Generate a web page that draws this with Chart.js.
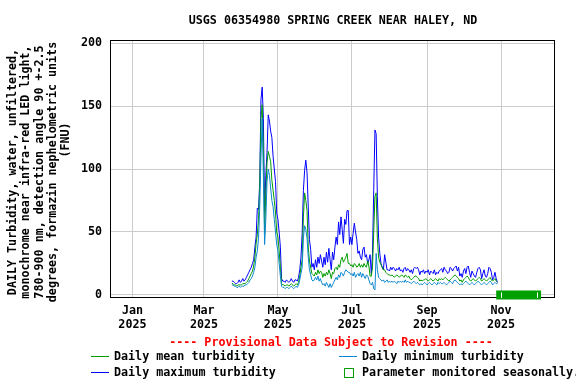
<!DOCTYPE html>
<html>
<head>
<meta charset="utf-8">
<script src="https://cdn.jsdelivr.net/npm/chart.js@4/dist/chart.umd.min.js"></script>
<style>
  html, body { margin: 0; padding: 0; background: #fff; }
  #wrap { width: 576px; height: 384px; }
</style>
</head>
<body>
<div id="wrap"><canvas id="chart" width="576" height="384"></canvas></div>
<script>
/* ── Data ─────────────────────────────────────────────── */
// day numbers count from Jan 1 2025 = 0; first record is Mar 24 2025
const FIRST_DAY = 82;

const MAX_TURB = [
  11,11,10,9,9,10,12,10,11,13,11,12,14,16,18,
  20,22,25,28,38,46,69,68,90,155,165,140,65,95,113,143,138,130,125,110,100,90,65,60,50,38,13,11,
  11,10,12,11,10,11,13,11,10,12,12,11,14,20,30,49,83,99,107,97,70,44,36,22,25,
  20,28,22,30,25,32,27,22,30,24,34,26,37,28,20,34,28,38,46,40,58,48,62,52,41,60,56,67,67,
  40,46,40,49,57,50,44,33,35,30,28,36,38,30,32,25,28,32,17,33,
  83,131,128,78,46,33,25,22,20,32,26,20,20,19,22,20,22,21,19,21,20,22,19,20,18,21,22,19,21,20,
  18,20,17,21,22,21,22,20,16,19,18,20,17,19,18,20,16,19,18,17,20,16,18,17,19,20,21,
  18,22,20,19,17,18,22,21,19,21,22,23,19,22,15,17,14,19,21,17,22,23,18,14,19,17,15,
  14,18,21,22,20,13,17,20,15,14,17,22,21,18,12,14,18,13,10
];

const MEAN_TURB = [
  9,9,8,8,7,8,8,8,8,9,9,9,10,11,13,
  15,17,19,23,30,41,48,60,86,140,151,115,49,80,105,114,110,106,91,83,75,65,50,46,35,22,9,8,
  8,7,8,8,7,8,9,8,7,8,9,8,10,15,22,28,62,81,75,67,38,27,22,17,16,
  15,18,16,20,17,19,18,14,17,15,18,16,20,17,13,18,17,21,22,20,24,22,28,30,26,28,30,33,25,
  25,23,24,22,25,24,22,23,25,22,24,22,25,23,22,27,23,15,15,22,
  50,78,81,45,30,26,24,22,20,20,18,17,16,16,15,16,15,14,15,16,15,14,15,16,15,14,16,15,14,15,
  13,12,13,14,15,15,14,13,11,12,11,12,12,13,12,11,12,13,12,11,12,13,12,11,13,12,13,
  12,13,14,13,12,11,12,13,14,15,16,15,14,13,11,12,10,12,13,14,15,14,12,11,12,13,12,
  11,12,13,14,13,11,12,13,12,11,12,13,14,12,11,12,13,11,10
];

const MIN_TURB = [
  8,8,7,7,6,6,7,6,7,7,7,8,8,9,10,
  12,13,15,18,22,30,35,45,70,110,140,95,40,60,90,100,95,85,75,70,60,50,40,35,25,15,7,6,
  6,5,6,6,5,6,7,6,5,6,7,6,8,12,17,22,45,55,52,45,30,20,16,12,11,
  12,14,12,15,11,13,10,8,9,7,10,8,6,9,6,8,10,12,14,12,16,14,18,17,15,18,20,19,18,
  18,16,17,15,18,14,16,17,15,18,14,17,15,13,16,15,12,9,8,10,
  5,4,33,20,14,13,12,11,12,10,11,12,10,11,10,11,10,11,10,9,11,10,11,10,11,10,12,10,11,10,
  10,9,10,11,10,9,10,9,8,9,8,9,10,9,8,9,10,9,8,9,10,9,8,10,9,10,9,
  9,10,9,8,9,10,11,10,9,11,12,11,10,9,8,9,8,9,10,11,10,9,8,9,10,9,8,
  9,10,11,10,9,8,9,10,9,8,9,10,11,10,8,9,10,9,9
];

const MONTH_TICKS = [0, 59, 120, 181, 243, 304];
const MONTH_LABELS = [['Jan', '2025'], ['Mar', '2025'], ['May', '2025'],
                      ['Jul', '2025'], ['Sep', '2025'], ['Nov', '2025']];
const Y_TICKS = [0, 50, 100, 150, 200];
const SEASON_SPAN = [300, 337];
const SEASON_MARKS = [304, 334];

const TITLE = 'USGS 06354980 SPRING CREEK NEAR HALEY, ND';
const Y_LABEL = ['DAILY Turbidity, water, unfiltered,',
                 'monochrome near infra-red LED light,',
                 '780-900 nm, detection angle 90 +-2.5',
                 'degrees, formazin nephelometric units'];
const Y_UNIT = '(FNU)';

/* ── Helpers ──────────────────────────────────────────── */
const MONO = '"DejaVu Sans Mono", "Liberation Mono", monospace';
const FONT = `bold 11.7px ${MONO}`;
const C_MEAN = '#009a00', C_MIN = '#0a86cf', C_MAX = '#0000ff';

const toPoints = vals => vals.map((v, i) => ({ x: FIRST_DAY + i, y: v }));

/* ── Decorations plugin (frame, title, labels, legend) ── */
const usgsDecor = {
  id: 'usgs-decor',
  afterDraw(chart) {
    const { ctx, chartArea: a, scales } = chart;
    ctx.save();

    // plot frame
    ctx.strokeStyle = '#000';
    ctx.lineWidth = 1;
    ctx.strokeRect(a.left + 0.5, a.top + 0.5, a.right - a.left - 1, a.bottom - a.top);

    // seasonal bar
    const x0 = scales.x.getPixelForValue(SEASON_SPAN[0]);
    const x1 = scales.x.getPixelForValue(SEASON_SPAN[1]);
    const yc = scales.y.getPixelForValue(0);
    ctx.fillStyle = '#00a000';
    ctx.fillRect(x0, yc - 4.5, x1 - x0, 9);
    ctx.strokeStyle = '#fff';
    SEASON_MARKS.forEach(d => {
      const xm = Math.round(scales.x.getPixelForValue(d)) + 0.5;
      ctx.beginPath(); ctx.moveTo(xm, yc - 2.5); ctx.lineTo(xm, yc + 3); ctx.stroke();
    });

    ctx.font = FONT;
    ctx.fillStyle = '#000';
    ctx.textBaseline = 'middle';

    // title
    ctx.textAlign = 'center';
    ctx.fillText(TITLE, 333, 21);

    // rotated y label
    ctx.save();
    ctx.rotate(-Math.PI / 2);
    Y_LABEL.forEach((line, i) => ctx.fillText(line, -172, 13 + i * 13.3));
    ctx.fillText(Y_UNIT, -140, 66);
    ctx.restore();

    // provisional note
    ctx.fillStyle = '#ff0000';
    ctx.fillText('---- Provisional Data Subject to Revision ----', 331, 343);

    // legend
    ctx.textAlign = 'left';
    ctx.fillStyle = '#000';
    const sample = (x, y, color) => {
      ctx.strokeStyle = color;
      ctx.beginPath(); ctx.moveTo(x, y + 0.5); ctx.lineTo(x + 18, y + 0.5); ctx.stroke();
    };
    sample(91, 356, C_MEAN);
    ctx.fillText('Daily mean turbidity', 114, 357);
    sample(339, 356, C_MIN);
    ctx.fillText('Daily minimum turbidity', 362, 357);
    sample(91, 372, C_MAX);
    ctx.fillText('Daily maximum turbidity', 114, 373);
    ctx.strokeStyle = '#00a000';
    ctx.strokeRect(344.5, 368.5, 9, 9);
    ctx.fillText('Parameter monitored seasonally.', 362, 373);

    ctx.restore();
  },
};

/* ── Chart ────────────────────────────────────────────── */
new Chart(document.getElementById('chart'), {
  type: 'line',
  data: {
    datasets: [
      { label: 'Daily minimum turbidity', data: toPoints(MIN_TURB), borderColor: C_MIN },
      { label: 'Daily mean turbidity', data: toPoints(MEAN_TURB), borderColor: C_MEAN },
      { label: 'Daily maximum turbidity', data: toPoints(MAX_TURB), borderColor: C_MAX },
    ].map(ds => ({ ...ds, borderWidth: 1, pointRadius: 0, tension: 0, fill: false })),
  },
  options: {
    responsive: false,
    animation: false,
    events: [],
    layout: { padding: { top: 40, right: 21, left: 0, bottom: 0 } },
    plugins: { legend: { display: false }, tooltip: { enabled: false } },
    scales: {
      x: {
        type: 'linear',
        min: -18.5,
        max: 348.5,
        afterBuildTicks: s => { s.ticks = MONTH_TICKS.map(v => ({ value: v })); },
        afterFit: s => { s.height = 87; },
        ticks: {
          autoSkip: false,
          maxRotation: 0,
          padding: 7,
          color: '#000',
          font: { family: MONO, size: 11.7, weight: 'bold', lineHeight: 1.2 },
          callback: v => MONTH_LABELS[MONTH_TICKS.indexOf(v)] || '',
        },
        grid: { color: '#cccccc', lineWidth: 1, drawTicks: false },
        border: { display: false },
      },
      y: {
        min: -1.6,
        max: 202.4,
        afterBuildTicks: s => { s.ticks = Y_TICKS.map(v => ({ value: v })); },
        afterFit: s => { s.width = 110; },
        ticks: {
          padding: 8,
          color: '#000',
          font: { family: MONO, size: 11.7, weight: 'bold' },
        },
        grid: { color: '#cccccc', lineWidth: 1, drawTicks: false },
        border: { display: false },
      },
    },
  },
  plugins: [usgsDecor],
});
</script>
</body>
</html>
